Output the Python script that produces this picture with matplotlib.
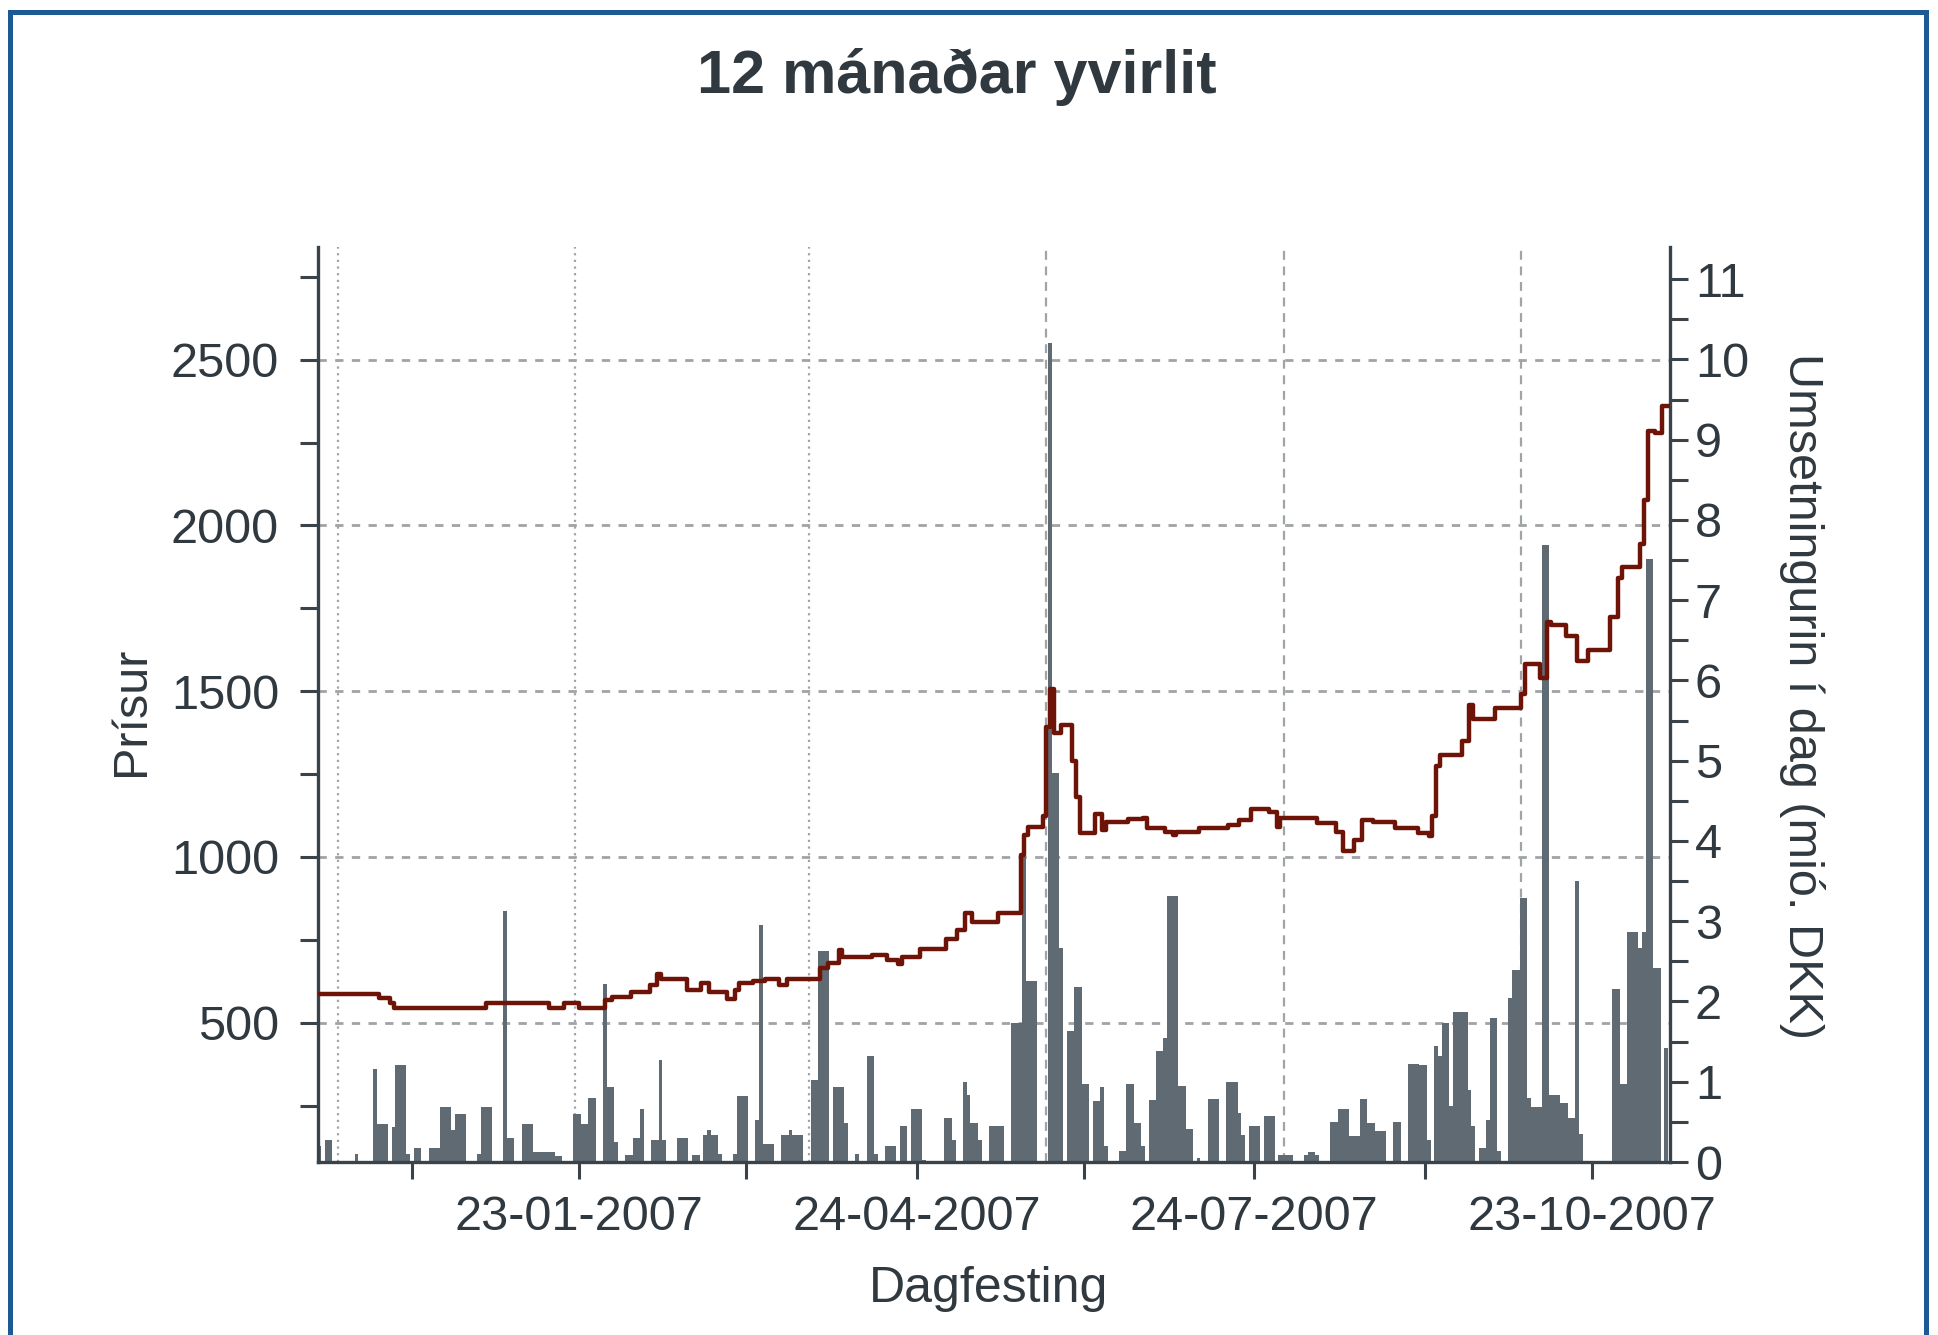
#!/usr/bin/env python3

import datetime
import numpy
import matplotlib
matplotlib.use('Agg')
import matplotlib.pyplot as plt
import matplotlib.dates as mdates
import matplotlib.transforms as mtransforms
from matplotlib.patches import Rectangle
from matplotlib.ticker import FixedLocator, MultipleLocator

graphWidth = 1938  # units are pixels
graphHeight = 1335  # units are pixels

plt.rcParams['font.family'] = ['Liberation Sans', 'DejaVu Sans']

titleText = '12 mánaðar yvirlit'
xLabel = 'Dagfesting'
leftLabel = 'Prísur'
rightLabel = 'Umsetningurin í dag (mió. DKK)'

startDate = datetime.date(2006, 11, 14)  # day 0 of the series below

# closing price, step line: (day since start, price)
priceDay = [0, 16, 19, 20, 45, 62, 66, 70, 77, 79, 84, 89, 91, 92, 99, 103, 105, 110,
            112, 113, 117, 120, 124, 126, 135, 137, 140, 141, 149, 153, 156, 157, 162,
            169, 172, 174, 176, 183, 189, 190, 191, 195, 196, 197, 198, 200, 203, 204,
            205, 209, 211, 212, 218, 222, 223, 228, 230, 231, 237, 245, 248, 251, 256,
            258, 259, 269, 274, 276, 279, 281, 284, 290, 296, 299, 300, 301, 302, 308,
            310, 311, 317, 324, 325, 329, 331, 332, 336, 339, 342, 348, 350, 351, 356,
            357, 358, 360, 362, 364]
priceDkk = [587, 574, 560, 546, 560, 546, 560, 546, 570, 577, 592, 614, 647, 631, 598,
            620, 592, 573, 598, 619, 625, 631, 614, 631, 664, 680, 718, 697, 704, 688,
            678, 697, 724, 754, 780, 830, 805, 830, 1005, 1065, 1089, 1123, 1391, 1508,
            1375, 1399, 1290, 1182, 1073, 1131, 1082, 1107, 1116, 1119, 1086, 1075, 1066,
            1075, 1086, 1096, 1113, 1146, 1135, 1091, 1119, 1102, 1075, 1019, 1052, 1113,
            1107, 1086, 1073, 1064, 1123, 1273, 1307, 1349, 1458, 1416, 1449, 1491, 1583,
            1541, 1709, 1700, 1667, 1592, 1625, 1725, 1843, 1876, 1943, 2077, 2286, 2279,
            2361, 2361]

# daily turnover in mio. DKK: (day since start, value)
volDay = [0, 2, 3, 10, 15, 16, 17, 18, 20, 21, 22, 23, 24, 26, 27, 30, 31, 32, 33, 34,
          35, 36, 37, 38, 39, 43, 44, 45, 46, 50, 51, 52, 55, 56, 57, 58, 59, 60, 61, 62,
          63, 64, 65, 69, 70, 71, 72, 73, 74, 77, 78, 79, 80, 83, 84, 85, 86, 87, 90, 91,
          92, 93, 97, 98, 99, 101, 102, 104, 105, 106, 107, 108, 112, 113, 114, 115, 118,
          119, 120, 121, 122, 125, 126, 127, 128, 129, 130, 133, 134, 135, 136, 137, 139,
          140, 141, 142, 145, 148, 149, 150, 153, 154, 155, 157, 158, 160, 161, 162, 163,
          169, 170, 171, 174, 175, 176, 177, 178, 181, 182, 183, 184, 187, 188, 189, 190,
          191, 192, 193, 197, 198, 199, 200, 202, 203, 204, 205, 206, 207, 209, 210, 211,
          212, 216, 217, 218, 219, 220, 221, 222, 224, 225, 226, 227, 228, 229, 230, 231,
          232, 233, 234, 235, 237, 240, 241, 242, 245, 246, 247, 248, 249, 251, 252, 253,
          255, 256, 257, 259, 260, 261, 262, 266, 267, 268, 269, 273, 274, 275, 276, 277,
          278, 279, 280, 281, 282, 283, 284, 285, 286, 287, 290, 291, 294, 295, 296, 297,
          298, 299, 301, 302, 303, 304, 305, 306, 307, 308, 309, 310, 311, 313, 314, 315,
          316, 317, 318, 321, 322, 323, 324, 325, 326, 327, 328, 329, 330, 331, 332, 333,
          334, 335, 336, 337, 338, 339, 340, 349, 350, 351, 352, 353, 354, 355, 356, 357,
          358, 359, 360, 361, 363]
volMdkk = [0.20, 0.27, 0.27, 0.10, 1.16, 0.47, 0.47, 0.47, 0.43, 1.21, 1.21, 1.21, 0.10,
           0.18, 0.18, 0.18, 0.18, 0.18, 0.69, 0.69, 0.69, 0.40, 0.60, 0.60, 0.60, 0.10,
           0.69, 0.69, 0.69, 3.13, 0.30, 0.30, 0.47, 0.47, 0.47, 0.12, 0.12, 0.12, 0.12,
           0.12, 0.12, 0.07, 0.07, 0.60, 0.60, 0.47, 0.47, 0.80, 0.80, 2.22, 0.93, 0.93,
           0.25, 0.09, 0.09, 0.30, 0.30, 0.66, 0.27, 0.27, 1.27, 0.27, 0.30, 0.30, 0.30,
           0.09, 0.09, 0.34, 0.40, 0.34, 0.34, 0.10, 0.10, 0.82, 0.82, 0.82, 0.52, 2.95,
           0.23, 0.23, 0.23, 0.34, 0.34, 0.40, 0.34, 0.34, 0.34, 1.02, 1.02, 2.63, 2.63,
           2.63, 0.93, 0.93, 0.93, 0.48, 0.10, 1.32, 1.32, 0.10, 0.20, 0.20, 0.20, 0.45,
           0.45, 0.66, 0.66, 0.66, 0.03, 0.55, 0.55, 0.28, 1.00, 0.83, 0.48, 0.48, 0.28,
           0.45, 0.45, 0.45, 0.45, 1.73, 1.73, 1.73, 3.80, 2.25, 2.25, 2.25, 10.20, 4.85,
           4.85, 2.67, 1.63, 1.63, 2.18, 2.18, 0.97, 0.97, 0.76, 0.76, 0.93, 0.20, 0.14,
           0.14, 0.97, 0.97, 0.48, 0.48, 0.20, 0.77, 0.77, 1.38, 1.38, 1.54, 3.31, 3.31,
           3.31, 0.95, 0.95, 0.41, 0.41, 0.05, 0.79, 0.79, 0.79, 1.00, 1.00, 1.00, 0.61,
           0.34, 0.45, 0.45, 0.45, 0.57, 0.57, 0.57, 0.09, 0.09, 0.09, 0.09, 0.09, 0.12,
           0.12, 0.09, 0.50, 0.50, 0.66, 0.66, 0.66, 0.32, 0.32, 0.32, 0.79, 0.79, 0.48,
           0.48, 0.39, 0.39, 0.39, 0.50, 0.50, 1.22, 1.22, 1.22, 1.21, 1.21, 0.28, 1.45,
           1.32, 1.73, 1.73, 0.70, 1.87, 1.87, 1.87, 1.87, 0.90, 0.45, 0.17, 0.17, 0.52,
           1.80, 1.80, 0.14, 2.04, 2.39, 2.39, 3.29, 3.29, 0.80, 0.69, 0.69, 0.69, 7.69,
           7.69, 0.83, 0.83, 0.83, 0.73, 0.73, 0.55, 0.55, 3.50, 0.35, 2.15, 2.15, 0.97,
           0.97, 2.87, 2.87, 2.87, 2.67, 2.87, 7.51, 7.51, 2.42, 2.42, 1.42]

priceTicks = [500, 1000, 1500, 2000, 2500]
labelDates = ['2007-01-23', '2007-04-24', '2007-07-24', '2007-10-23']
midDates = ['2006-12-09', '2007-03-09', '2007-06-08', '2007-09-08']
gridDates = ['2006-11-19', '2007-01-22', '2007-03-26', '2007-05-29', '2007-08-01', '2007-10-04']

LINE = '#6e1308'
BAR = '#5f6a72'
AXIS = '#3a4349'
TEXT = '#30393f'
GRID = '#a0a4a7'
BORDER = '#1d5a95'
FS = 35


def toNum(s):
    return mdates.date2num(datetime.date.fromisoformat(s))


def TwelveMonthPlot():
    f = plt.figure(figsize=(graphWidth/100.0, graphHeight/100.0), dpi=100)

    axes = f.add_axes([318/1938, 173/1335, 1352/1938, 915/1335])
    axesVol = axes.twinx()
    axes.set_zorder(axesVol.get_zorder() + 1)  # price line above the bars
    axes.patch.set_visible(False)

    base = mdates.date2num(startDate)

    # grid lives on the lower axes so the bars cover it
    hTrans = mtransforms.blended_transform_factory(axesVol.transAxes, axes.transData)
    for p in priceTicks:
        axesVol.plot([0, 1], [p, p], transform=hTrans, color=GRID, lw=2.0,
                     ls=(0, (3, 3)), zorder=1, scalex=False, scaley=False)
    for i, d in enumerate(gridDates):
        style = (0, (1, 2)) if i < 3 else (0, (4, 3))
        axesVol.axvline(toNum(d), color=GRID, lw=1.6, ls=style, zorder=1)

    axesVol.bar(base + numpy.array(volDay), volMdkk, width=1.0, color=BAR,
                linewidth=0, zorder=3)
    axes.plot(base + numpy.array(priceDay), priceDkk, drawstyle='steps-post',
              color=LINE, lw=3.2, zorder=5)

    axes.set_xlim(base - 0.35, base + 364.05)
    axes.set_ylim(80, 2840)
    axesVol.set_ylim(0, 11.4)

    for s in ['top', 'right']:
        axes.spines[s].set_visible(False)
    for s in ['top', 'left', 'bottom']:
        axesVol.spines[s].set_visible(False)
    for sp in [axes.spines['left'], axes.spines['bottom'], axesVol.spines['right']]:
        sp.set_color(AXIS)
        sp.set_linewidth(2.4)

    axes.yaxis.set_major_locator(FixedLocator(priceTicks))
    axes.yaxis.set_minor_locator(MultipleLocator(250))
    axesVol.yaxis.set_major_locator(MultipleLocator(1))
    axesVol.yaxis.set_minor_locator(MultipleLocator(0.5))
    axes.xaxis.set_major_locator(FixedLocator([toNum(d) for d in labelDates]))
    axes.xaxis.set_minor_locator(FixedLocator([toNum(d) for d in midDates]))
    axes.xaxis.set_major_formatter(mdates.DateFormatter('%d-%m-%Y'))

    axes.tick_params(axis='y', which='both', direction='out', length=13, width=2.2,
                     color=AXIS, labelsize=FS, labelcolor=TEXT, pad=15)
    axesVol.tick_params(axis='y', which='both', direction='out', length=13, width=2.2,
                        color=AXIS, labelsize=FS, labelcolor=TEXT, pad=5)
    axes.tick_params(axis='x', which='both', direction='out', length=12, width=2.2,
                     color=AXIS, labelsize=FS, labelcolor=TEXT, pad=12)

    axes.set_ylabel(leftLabel, fontsize=FS, color=TEXT, va='center')
    axes.yaxis.set_label_coords(-0.138, 0.493)
    axesVol.set_ylabel(rightLabel, fontsize=FS, color=TEXT, rotation=270, va='center')
    axesVol.yaxis.set_label_coords(1.098, 0.509)
    axes.set_xlabel(xLabel, fontsize=36, color=TEXT, va='center')
    axes.xaxis.set_label_coords(0.496, -0.139)

    f.text(0.4938, 0.9423, titleText, fontsize=44, fontweight='bold', color=TEXT,
           ha='center', va='center')

    f.patches.append(Rectangle((10/1938, -0.02), 1916/1938, 1.02 - 12/1335,
                               transform=f.transFigure, fill=False,
                               edgecolor=BORDER, lw=3.6))

    f.savefig('out.png', dpi=100)
    plt.close('all')


if __name__ == "__main__":
    TwelveMonthPlot()
